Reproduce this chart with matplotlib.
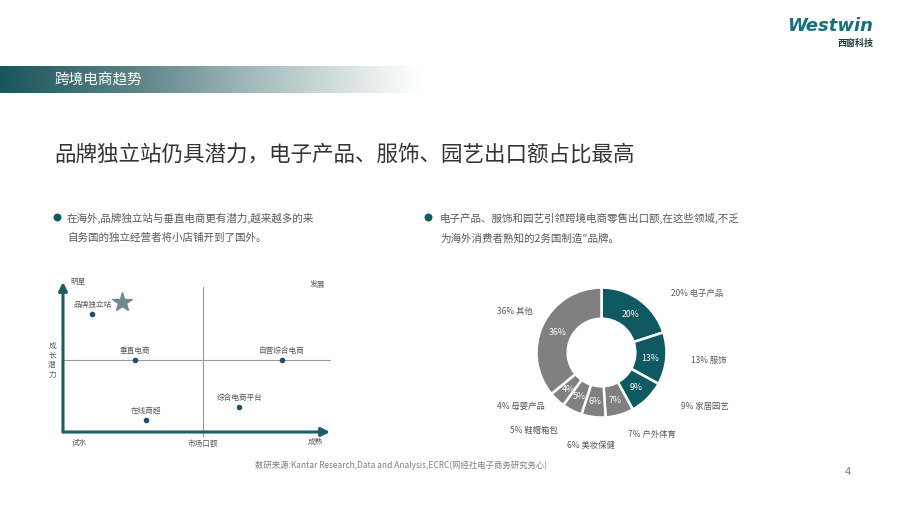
import numpy as np
import matplotlib
import matplotlib.pyplot as plt
from matplotlib.colors import LinearSegmentedColormap
matplotlib.use('Agg')

plt.rcParams['font.family'] = ['Noto Sans CJK SC', 'DejaVu Sans']

# quadrant chart data (market share 0-10, growth potential 0-10)
quad_names = ['品牌独立站', '垂直电商', '自营综合电商', '综合电商平台', '在线商超']
quad_share = [1.1, 2.7, 8.2, 6.6, 3.1]
quad_growth = [7.9, 4.8, 4.8, 1.7, 0.8]
quad_split_x = 5.24
quad_split_y = 4.8

# donut data
pie_labels = ['电子产品', '服饰', '家居园艺', '户外体育', '美妆保健', '鞋帽箱包', '母婴产品', '其他']
pie_values = [20, 13, 9, 7, 6, 5, 4, 36]

TEAL = '#0f5a62'
GRAY = '#808080'
TEXT = '#595959'

fig = plt.figure(figsize=(9, 5.06), dpi=100)

# page overlay in pixel coordinates
page = fig.add_axes([0, 0, 1, 1])
page.axis('off')

# header banner with gradient
cmap = LinearSegmentedColormap.from_list('banner', ['#1b555c', '#5f8588', '#b3c6c7', '#ffffff'])
grad = np.linspace(0, 1, 256).reshape(1, -1)
page.imshow(grad, cmap=cmap, extent=[0, 420, 94, 67], aspect='auto', zorder=1)
page.set_xlim(0, 900)
page.set_ylim(506, 0)
page.text(54, 81, '跨境电商趋势', color='white', fontsize=10.5, va='center', zorder=2)

# logo
page.text(873, 26, 'Westwin', color='#17707c', fontsize=13, fontweight='bold', style='italic',
          ha='right', va='center', family=['DejaVu Sans'])
page.text(873, 43, '西窗科技', color='#1d3c40', fontsize=6.5, ha='right', va='center', fontweight='bold')

# title
page.text(54, 155, '品牌独立站仍具潜力，电子产品、服饰、园艺出口额占比最高',
          color='#333333', fontsize=15.5, va='center')

# bullets
page.scatter([57, 428], [218, 218], s=22, color=TEAL, zorder=3)
page.text(67, 218, '在海外,品牌独立站与垂直电商更有潜力,越来越多的来', color=TEXT, fontsize=7.6, va='center')
page.text(67, 238, '自务国的独立经营者将小店铺开到了国外。', color=TEXT, fontsize=7.6, va='center')
page.text(440, 218, '电子产品、服饰和园艺引领跨境电商零售出口额,在这些领域,不乏', color=TEXT, fontsize=7.6, va='center')
page.text(440, 238, '为海外消费者熟知的2务国制造"品牌。', color=TEXT, fontsize=7.6, va='center')

# quadrant axis captions
small = dict(color=TEXT, fontsize=5.5, va='center')
page.text(70, 282, '明星', **small)
page.text(310, 285, '发展', **small)
page.text(72, 443, '试水', **small)
page.text(203, 444, '市场口额', ha='center', **small)
page.text(308, 442, '成熟', **small)
for i, ch in enumerate('成长潜力'):
    page.text(52, 346 + i * 9.5, ch, ha='center', **small)

# source and page number
page.text(255, 465, '数研来源:Kantar Research,Data and Analysis,ECRC(网经社电子商务研究务心)',
          color='#7f7f7f', fontsize=6, va='center')
page.text(845, 472, '4', color='#7f7f7f', fontsize=8, va='center')

# quadrant chart
qa = fig.add_axes([63 / 900, 1 - 433 / 506, 267 / 900, 150 / 506])
qa.set_xlim(0, 10)
qa.set_ylim(0, 10)
qa.axis('off')
qa.plot([quad_split_x, quad_split_x], [-0.27, 9.67], color='#9a9a9a', lw=0.8, clip_on=False)
qa.plot([0, 10], [quad_split_y, quad_split_y], color='#9a9a9a', lw=0.8, clip_on=False)
arrow = dict(arrowstyle='-|>,head_length=0.5,head_width=0.25', color='#1a5f66', lw=2.2,
             shrinkA=0, shrinkB=0)
qa.annotate('', xy=(10, 0), xytext=(0, 0), arrowprops=arrow, annotation_clip=False)
qa.annotate('', xy=(0, 10), xytext=(0, 0), arrowprops=arrow, annotation_clip=False)
qa.scatter(quad_share, quad_growth, s=9, color='#1f4e6e', zorder=3, clip_on=False)
for name, x, y in zip(quad_names, quad_share, quad_growth):
    qa.annotate(name, (x, y), xytext=(0, 7), textcoords='offset points', ha='center',
                va='center', color=TEXT, fontsize=5.5)
qa.plot([quad_share[0] + 1.1], [quad_growth[0] + 0.8], marker='*', markersize=15,
        color='#6f8b8f', clip_on=False)

# donut chart
da = fig.add_axes([471.5 / 900, 1 - 483.5 / 506, 260 / 900, 260 / 506])
colors = [TEAL, TEAL, TEAL] + [GRAY] * 5
wedges, _, pcts = da.pie(pie_values, colors=colors, startangle=90, counterclock=False,
                         radius=1, autopct='%d%%', pctdistance=0.75,
                         wedgeprops=dict(width=0.48, edgecolor='white', linewidth=1.8),
                         textprops=dict(color='white', fontsize=6.3))
da.set_xlim(-2, 2)
da.set_ylim(-2, 2)
da.set_aspect('equal')
da.axis('off')
label_pos = [(1.47, 0.93), (1.65, -0.1), (1.59, -0.81), (0.78, -1.24),
             (-0.16, -1.41), (-1.04, -1.18), (-1.24, -0.81), (-1.33, 0.64)]
for name, val, (lx, ly) in zip(pie_labels, pie_values, label_pos):
    da.text(lx, ly, f'{val}% {name}', ha='center', va='center', color=TEXT, fontsize=6)

fig.savefig('out.png', dpi=100)
